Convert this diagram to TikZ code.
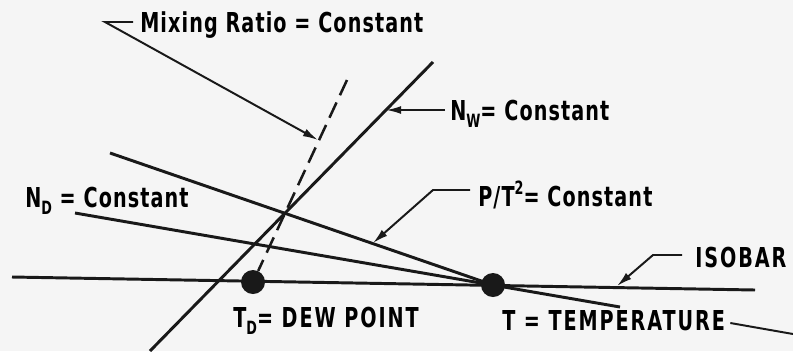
\documentclass[tikz,border=0pt]{standalone}
\usepackage{fontspec}
\usetikzlibrary{arrows.meta,calc}
\newfontfamily\lblfont{DejaVu Sans}[FakeStretch=0.7, LetterSpace=4]
\newfontfamily\capsfont{DejaVu Sans}[FakeStretch=0.7, LetterSpace=7]
\newcommand{\lblsub}[1]{\raisebox{-0.5ex}{\fontsize{13}{13}\selectfont #1}}
\newcommand{\lblsup}[1]{\raisebox{0.75ex}{\fontsize{13}{13}\selectfont #1}}

\tikzset{
  curve/.style={line width=2.1pt, black!90},
  lead/.style={line width=1.4pt, black!90},
  arr/.style={lead, -{Latex[length=0.38cm,width=0.2cm]}},
  lbl/.style={anchor=west, inner sep=0pt, text height=0.5cm, text depth=0pt,
    font=\lblfont\bfseries\fontsize{19.5}{22}\selectfont},
  capslbl/.style={lbl, font=\capsfont\bfseries\fontsize{19.5}{22}\selectfont},
  dot/.style={circle, fill=black!90, minimum size=0.6cm, inner sep=0pt},
}

\begin{document}
\begin{tikzpicture}[x=0.025cm, y=-0.025cm]
  \fill[black!4] (0,0) rectangle (793,351);
  \useasboundingbox (0,0) rectangle (793,351);
  % end points of the lines
  \coordinate (isoL) at (12,277);
  \coordinate (isoR) at (755,290);
  \coordinate (nwBot) at (150,351);
  \coordinate (nwTop) at (433,62);
  \coordinate (mrTop) at (347,80);
  \coordinate (ptL) at (110,153);
  \coordinate (ndL) at (75,213);
  \coordinate (ndR) at (620,307);
  % dew point and temperature
  \node[dot] (dewpt) at (253,282) {};
  \node[dot] (tdot) at (493,285) {};
  % isobar and constant lines
  \draw[curve] (isoL) -- (isoR);
  \draw[curve] (nwBot) -- (nwTop);
  \draw[curve] (ptL) -- (tdot.center);
  \draw[curve] (ndL) -- (ndR);
  \draw[line width=1.8pt, black!90, dash pattern=on 0.42cm off 0.2cm] (mrTop) -- (dewpt);
  % labels
  \node[lbl] (mixlbl) at (140,22) {Mixing Ratio = Constant};
  \node[lbl] (nwlbl) at (450,110) {N\lblsub{W}= Constant};
  \node[lbl] (ptlbl) at (478,196) {P/T\lblsup{2}= Constant};
  \node[lbl] (ndlbl) at (25,197) {N\lblsub{D} = Constant};
  \node[capslbl] (isolbl) at (695,257) {ISOBAR};
  \node[capslbl] (tdlbl) at (233,317) {T\lblsub{D}= DEW POINT};
  \node[capslbl] (templbl) at (502,320) {T = TEMPERATURE};
  % leaders
  \coordinate (mixtip) at (318,140);
  \coordinate (nwtip) at (386,110);
  \coordinate (pttip) at (373,243);
  \coordinate (isotip) at (617,286);
  \coordinate (tempend) at (793,334);
  \draw[arr] ($(mixlbl.west)+(-7,0)$) -- ++(-28,0) -- (mixtip);
  \draw[arr] ($(nwlbl.west)+(-5,0)$) -- (nwtip);
  \draw[arr] ($(ptlbl.west)+(-8,-6)$) -- ++(-37,0) -- (pttip);
  \draw[arr] ($(isolbl.west)+(-13,-2)$) -- ++(-29,0) -- (isotip);
  \draw[lead] ($(templbl.east)+(5,3)$) -- (tempend);
\end{tikzpicture}
\end{document}
